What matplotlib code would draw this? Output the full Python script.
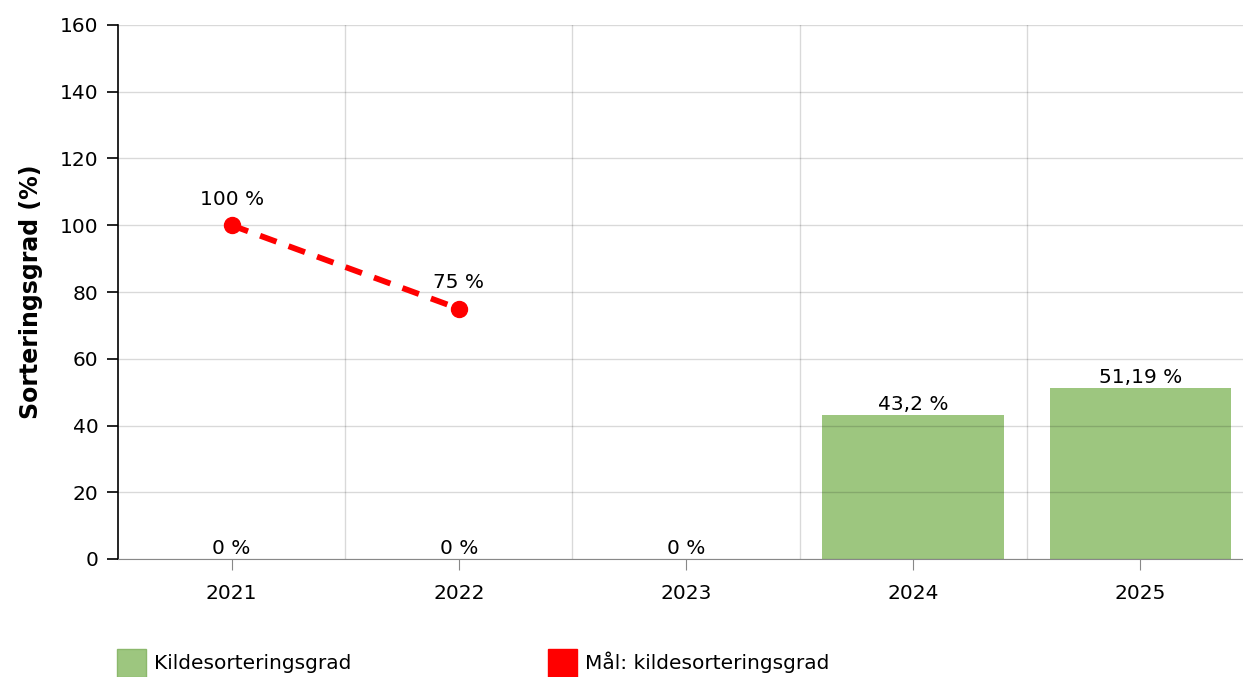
import numpy as np
import matplotlib.pyplot as plt
from matplotlib.patches import Patch

# ---- data ----
years = ["2021", "2022", "2023", "2024", "2025"]
kildesortering = [0, 0, 0, 43.2, 51.19]
maal = [100, 75, np.nan, np.nan, np.nan]

BAR_COLOR = "#9dc67f"
LINE_COLOR = "#ff0000"


def fmt(v):
    return f"{v:g}".replace(".", ",") + " %"


plt.rcParams["font.family"] = ["DejaVu Sans"]
plt.rcParams["font.size"] = 14.5

fig = plt.figure(figsize=(12.43, 6.77), dpi=100)
ax = fig.add_axes([118 / 1243, 118 / 677, 1136 / 1243, 534 / 677])

x = np.arange(len(years))

# bars
ax.bar(x, kildesortering, width=0.8, color=BAR_COLOR, zorder=1)
for xi, v in zip(x, kildesortering):
    ax.text(xi, v + 0.3, fmt(v), ha="center", va="bottom", zorder=5)

# target line
ax.plot(x, maal, color=LINE_COLOR, lw=4.2, ls=(0, (3.0, 2.2)),
        marker="o", ms=11.5, zorder=4)
for xi, v in zip(x, maal):
    if not np.isnan(v):
        ax.text(xi, v + 5, fmt(v), ha="center", va="bottom", zorder=5)

# axes
ax.set_xlim(-0.5, 4.5)
ax.set_ylim(0, 160)
ax.set_yticks(np.arange(0, 161, 20))
ax.set_xticks(x)
ax.set_xticklabels(years)
ax.set_xticks(x[:-1] + 0.5, minor=True)
ax.tick_params(axis="x", which="major", length=8, color="#888888", pad=10)
ax.tick_params(axis="x", which="minor", length=0)
ax.tick_params(axis="y", length=8, color="black", width=1.2, pad=6)

ax.set_axisbelow(False)
ax.grid(axis="y", color="black", alpha=0.15, lw=1, zorder=2)
ax.grid(axis="x", which="minor", color="black", alpha=0.15, lw=1, zorder=2)
ax.grid(axis="x", which="major", visible=False)

for s in ["top", "right"]:
    ax.spines[s].set_visible(False)
ax.spines["bottom"].set_color("#888888")
ax.spines["left"].set_color("black")
ax.spines["left"].set_linewidth(1.2)

ax.set_ylabel("Sorteringsgrad (%)", fontweight="bold", fontsize=17, labelpad=12)

# legend
h1 = Patch(facecolor=BAR_COLOR, edgecolor="#8cb86c")
h2 = Patch(facecolor=LINE_COLOR, edgecolor=LINE_COLOR)
for h, lab, x0 in [(h1, "Kildesorteringsgrad", 117), (h2, "Mål: kildesorteringsgrad", 548)]:
    fig.legend([h], [lab], loc="lower left",
               bbox_to_anchor=(x0 / 1243, 0), frameon=False, borderpad=0,
               borderaxespad=0, handlelength=1.45, handleheight=1.8,
               handletextpad=0.4, fontsize=14.5)

fig.savefig("out.png", dpi=100)
